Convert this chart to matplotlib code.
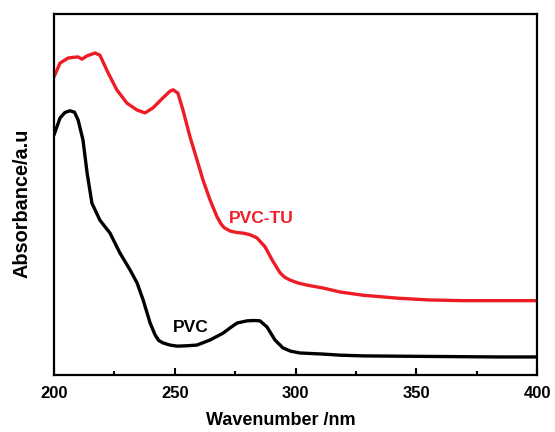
import matplotlib.pyplot as plt
from matplotlib.ticker import MultipleLocator, NullLocator

# wavelength (nm) and absorbance (a.u.)
pvc_tu_x = [200, 202.5, 205.8, 208, 210, 211.6, 213.7, 217, 219, 222.4, 226,
            230.2, 234.4, 237.7, 241, 245, 248, 249.3, 251.3, 253.4, 256.3,
            259.2, 261.7, 264.6, 267.5, 269, 270.5, 272.9, 275.5, 278.3, 281,
            284, 287.4, 290.3, 293.6, 295.5, 297.7, 301, 304.8, 311.4, 318.4,
            328, 342, 355, 369, 385, 400]
pvc_tu_y = [0.826, 0.864, 0.878, 0.880, 0.881, 0.875, 0.884, 0.892, 0.886,
            0.837, 0.790, 0.753, 0.734, 0.726, 0.740, 0.767, 0.786, 0.790,
            0.781, 0.734, 0.660, 0.596, 0.540, 0.485, 0.438, 0.420, 0.408,
            0.399, 0.395, 0.393, 0.389, 0.380, 0.355, 0.319, 0.283, 0.271,
            0.263, 0.255, 0.249, 0.241, 0.230, 0.221, 0.213, 0.208, 0.206,
            0.206, 0.206]
pvc_x = [200, 202.5, 204.5, 206.6, 208.5, 210, 212, 213.7, 215.7, 219,
         223.2, 227.3, 231.5, 234.4, 236.9, 239.8, 241.8, 243.3, 245.1, 248,
         251, 255, 259.2, 264.6, 270, 273, 275.8, 279.9, 283, 285.3, 288.2,
         291.5, 294.8, 298, 301.9, 311.4, 318.4, 328, 345, 365, 385, 400]
pvc_y = [0.665, 0.712, 0.727, 0.732, 0.728, 0.706, 0.651, 0.560, 0.476,
         0.429, 0.393, 0.338, 0.291, 0.255, 0.208, 0.144, 0.112, 0.096,
         0.089, 0.083, 0.080, 0.081, 0.083, 0.097, 0.116, 0.131, 0.144,
         0.150, 0.151, 0.150, 0.133, 0.097, 0.075, 0.066, 0.061, 0.058,
         0.055, 0.053, 0.052, 0.051, 0.050, 0.050]

plt.rcParams['font.family'] = ['Liberation Sans', 'DejaVu Sans']
plt.rcParams['font.weight'] = 'bold'

fig = plt.figure(figsize=(5.55, 4.32), dpi=100)
ax = fig.add_axes([0.0973, 0.1319, 0.8703, 0.8357])

ax.plot(pvc_tu_x, pvc_tu_y, color='#ee1c24', lw=2.4, solid_capstyle='round',
        solid_joinstyle='round')
ax.plot(pvc_x, pvc_y, color='black', lw=2.4, solid_capstyle='round',
        solid_joinstyle='round')

ax.text(272.5, 0.434, 'PVC-TU', color='#ee1c24', fontsize=12.5,
        fontweight='bold', va='center', ha='left')
ax.text(249.3, 0.133, 'PVC', color='black', fontsize=12.5, fontweight='bold',
        va='center', ha='left')

ax.set_xlim(200, 400)
ax.set_ylim(0, 1)
ax.xaxis.set_major_locator(MultipleLocator(50))
ax.xaxis.set_minor_locator(MultipleLocator(25))
ax.yaxis.set_major_locator(NullLocator())
ax.tick_params(axis='x', which='major', direction='in', length=5, width=1.5,
               labelsize=12, pad=8)
ax.tick_params(axis='x', which='minor', direction='in', length=3, width=1.5)
for lbl in ax.get_xticklabels():
    lbl.set_fontweight('bold')
for s in ax.spines.values():
    s.set_linewidth(1.6)

ax.set_xlabel('Wavenumber /nm', fontsize=13, fontweight='bold', va='center')
ax.set_ylabel('Absorbance/a.u', fontsize=14.3, fontweight='bold', va='center')
ax.xaxis.set_label_coords(0.47, -0.125)
ax.yaxis.set_label_coords(-0.066, 0.476)

fig.savefig('out.png', dpi=100)
